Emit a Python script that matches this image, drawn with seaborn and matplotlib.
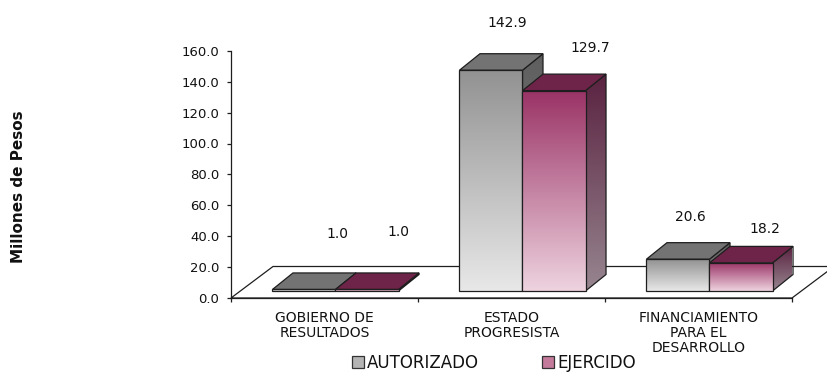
import numpy as np
import pandas as pd
import matplotlib
matplotlib.use("Agg")
import matplotlib.pyplot as plt
import seaborn as sns
from matplotlib.colors import LinearSegmentedColormap
from matplotlib.patches import Polygon, Patch

# ---- data -------------------------------------------------------------
categories = ["GOBIERNO DE\nRESULTADOS", "ESTADO\nPROGRESISTA",
              "FINANCIAMIENTO\nPARA EL\nDESARROLLO"]
series = ["AUTORIZADO", "EJERCIDO"]
autorizado = [1.0, 142.9, 20.6]
ejercido = [1.0, 129.7, 18.2]
y_ticks = [0, 20, 40, 60, 80, 100, 120, 140, 160]

df = pd.DataFrame({
    "categoria": categories * 2,
    "serie": [series[0]] * len(categories) + [series[1]] * len(categories),
    "valor": autorizado + ejercido,
})

# ---- styling ----------------------------------------------------------
W, H = 828, 373
sns.set_style("white")
plt.rcParams["font.family"] = ["DejaVu Sans"]
TXT = "#111111"
EDGE = "#1e1e1e"

# per-series face colours: (front bottom, front top, side bottom, side top, top)
faces = {
    series[0]: ("#e8e8e8", "#929292", "#8a8a8a", "#5e5e5e", "#737373"),
    series[1]: ("#eed3df", "#9a3366", "#978690", "#5a2240", "#6e2448"),
}
# value-label nudges in pixels (dx, dy) from the top-front centre of each bar
label_nudge = {
    (0, 0): (33, 55), (0, 1): (31, 57),
    (1, 0): (16, 47), (1, 1): (36, 43),
    (2, 0): (12, 42), (2, 1): (24, 34),
}

fig = plt.figure(figsize=(W / 100, H / 100), dpi=100)
ax = fig.add_axes([231 / W, 1 - 298 / H, 561 / W, 247.2 / H])

sns.barplot(data=df, x="categoria", y="valor", hue="serie", order=categories,
            hue_order=series, width=0.674, errorbar=None, saturation=1,
            palette=["#b0b0b0", "#c07090"], edgecolor=EDGE, linewidth=0.9,
            legend=False, ax=ax)

XLIM = (-0.5, len(categories) - 0.5)
YLIM = (0, 160)
ax.set_xlim(*XLIM)
ax.set_ylim(*YLIM)

# pixel -> data conversions for the pseudo-3D depth
sx = 561 / (XLIM[1] - XLIM[0])
sy = 247.2 / (YLIM[1] - YLIM[0])
FLOOR_D = (42 / sx, 31.5 / sy)
BAR_D = (20.5 / sx, 16.5 / sy)
BASE = 7 / sy
SHIFT = 11 / sx

# floor
floor = Polygon([(XLIM[0], 0), (XLIM[1], 0),
                 (XLIM[1] + FLOOR_D[0], FLOOR_D[1]),
                 (XLIM[0] + FLOOR_D[0], FLOOR_D[1])],
                closed=True, facecolor="white", edgecolor=EDGE, lw=0.9,
                zorder=1, clip_on=False)
ax.add_patch(floor)

grad = np.linspace(0, 1, 256).reshape(-1, 1)


def gradient_fill(clip, x0, x1, y0, y1, c_bottom, c_top, z):
    cmap = LinearSegmentedColormap.from_list("g", [c_bottom, c_top])
    im = ax.imshow(grad, cmap=cmap, extent=(x0, x1, y0, y1), origin="lower",
                   aspect="auto", interpolation="bilinear", zorder=z)
    im.set_clip_path(clip)
    return im


bars = []
for p in ax.patches:
    if p is floor:
        continue
    cx = p.get_x() + p.get_width() / 2
    ci = int(round(cx))
    si = 0 if cx < ci else 1
    bars.append((ci, si, p))
bars.sort(key=lambda t: (t[0], t[1]))

for ci, si, p in bars:
    fb, ft, sb, st, tc = faces[series[si]]
    z = 3 + ci * 10 + si * 5
    x0 = p.get_x() + SHIFT
    w = p.get_width()
    h = p.get_height()
    y0, y1 = BASE, BASE + h
    dx, dy = BAR_D
    # side face
    side = Polygon([(x0 + w, y0), (x0 + w + dx, y0 + dy),
                    (x0 + w + dx, y1 + dy), (x0 + w, y1)], closed=True,
                   facecolor="none", edgecolor=EDGE, lw=0.9, zorder=z + 1,
                   clip_on=False)
    ax.add_patch(side)
    gradient_fill(side, x0 + w, x0 + w + dx, y0, y1 + dy, sb, st, z)
    # top face
    top = Polygon([(x0, y1), (x0 + w, y1), (x0 + w + dx, y1 + dy),
                   (x0 + dx, y1 + dy)], closed=True, facecolor=tc,
                  edgecolor=EDGE, lw=0.9, zorder=z + 1, clip_on=False)
    ax.add_patch(top)
    # front face (the seaborn bar itself)
    p.set_x(x0)
    p.set_y(y0)
    p.set_facecolor("none")
    p.set_zorder(z + 3)
    p.set_clip_on(False)
    gradient_fill(p, x0, x0 + w, y0, y1, fb, ft, z + 2)
    # value label
    nx, ny = label_nudge[(ci, si)]
    ax.annotate(f"{h:.1f}", xy=(x0 + w / 2, y1), xytext=(nx, ny),
                textcoords="offset pixels", ha="center", va="center",
                fontsize=10, color=TXT, zorder=50, annotation_clip=False)

ax.set_xlim(*XLIM)
ax.set_ylim(*YLIM)

# axes, ticks
for s in ("top", "right"):
    ax.spines[s].set_visible(False)
for s in ("left", "bottom"):
    ax.spines[s].set_color(EDGE)
    ax.spines[s].set_linewidth(0.9)
    ax.spines[s].set_zorder(2)

ax.set_yticks(y_ticks)
ax.set_yticklabels([f"{t:.1f}" for t in y_ticks])
ax.tick_params(axis="y", direction="out", length=3, width=0.9, color=EDGE,
               pad=5.5, labelsize=9.5, labelcolor=TXT, left=True)
ax.set_xticks(range(len(categories)))
ax.set_xticklabels(categories, linespacing=1.1)
ax.set_xticks(np.arange(XLIM[0], XLIM[1] + 0.01, 1), minor=True)
ax.tick_params(axis="x", which="major", length=0, pad=9, labelsize=10,
               labelcolor=TXT)
ax.tick_params(axis="x", which="minor", direction="out", length=3,
               width=0.9, color=EDGE, bottom=True)
ax.set_xlabel("")
ax.set_ylabel("")

fig.text(19 / W, 1 - 187 / H, "Millones de Pesos", rotation=90,
         ha="center", va="center", fontsize=11, fontweight="bold", color=TXT)

handles = [Patch(facecolor="#b4b4b4", edgecolor="#333333", lw=0.9),
           Patch(facecolor="#c47a9a", edgecolor="#333333", lw=0.9)]
fig.legend(handles, series, loc="center", bbox_to_anchor=(494 / W, 1 - 363 / H),
           ncol=2, frameon=False, handlelength=0.7, handleheight=0.7,
           handletextpad=0.2, columnspacing=3.8, fontsize=12,
           labelcolor=TXT, borderpad=0, borderaxespad=0)

fig.savefig("out.png", dpi=100)
